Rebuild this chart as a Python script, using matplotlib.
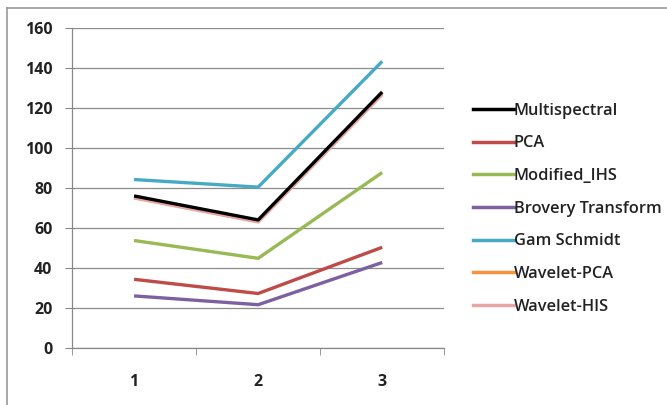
import matplotlib.pyplot as plt
from matplotlib.lines import Line2D

plt.rcParams['font.family'] = ['Open Sans', 'DejaVu Sans']

categories = ['1', '2', '3']
series_names = ['Multispectral', 'PCA', 'Modified_IHS', 'Brovery Transform',
                'Gam Schmidt', 'Wavelet-PCA', 'Wavelet-HIS']
multispectral = [76, 64, 128]
pca = [34.3, 27.2, 50.3]
modified_ihs = [53.7, 44.8, 87.7]
brovery = [26, 21.6, 42.7]
gam_schmidt = [84.2, 80.4, 143.3]
wavelet_pca = [75.2, 63.2, 127.2]
wavelet_his = [75, 63, 126.7]
colors = ['#000000', '#BE4B48', '#98B954', '#7D60A0', '#46AAC5', '#F69240', '#E6A6A4']

values = [multispectral, pca, modified_ihs, brovery, gam_schmidt, wavelet_pca, wavelet_his]
# drawing order: orange is hidden under pink, pink under black
order = [4, 2, 1, 3, 5, 6, 0]

fig = plt.figure(figsize=(6.67, 4.05), dpi=100)
ax = fig.add_axes([0.108, 0.141, 0.558, 0.790])

x = list(range(len(categories)))
for i in order:
    ax.plot(x, values[i], color=colors[i], lw=2.4, solid_capstyle='butt', zorder=3 + order.index(i))

ax.set_xlim(-0.5, 2.5)
ax.set_ylim(0, 160)
ax.set_yticks(range(0, 161, 20))
ax.set_xticks(x)
ax.set_xticklabels(categories)
ax.set_xticks([-0.5, 0.5, 1.5, 2.5], minor=True)
ax.tick_params(axis='x', which='major', length=0, pad=19, labelsize=11.5)
ax.tick_params(axis='x', which='minor', length=5, color='#888888', direction='out')
ax.tick_params(axis='y', length=5, color='#888888', labelsize=11.5, pad=9)
for lab in ax.get_yticklabels() + ax.get_xticklabels():
    lab.set_fontweight('bold')
    lab.set_color('#222222')
ax.grid(axis='y', color='#8c8c8c', lw=0.9)
ax.set_axisbelow(True)
for s in ['top', 'right']:
    ax.spines[s].set_visible(False)
for s in ['left', 'bottom']:
    ax.spines[s].set_color('#888888')
    ax.spines[s].set_linewidth(0.9)

handles = [Line2D([0], [0], color=c, lw=2.5) for c in colors]
leg = fig.legend(handles, series_names, loc='upper left', bbox_to_anchor=(0.699, 0.763),
                 frameon=False, handlelength=2.5, handletextpad=0.0, labelspacing=1.02,
                 prop={'size': 11.8, 'weight': 'semibold'}, borderaxespad=0)
for t in leg.get_texts():
    t.set_color('#222222')

# outer chart border
fig.add_artist(Line2D([0.0105, 0.0105], [0, 0.980], color='#9a9a9a', lw=1.2))
fig.add_artist(Line2D([0.0105, 0.999], [0.980, 0.980], color='#9a9a9a', lw=1.2))

fig.savefig('out.png', dpi=100)
